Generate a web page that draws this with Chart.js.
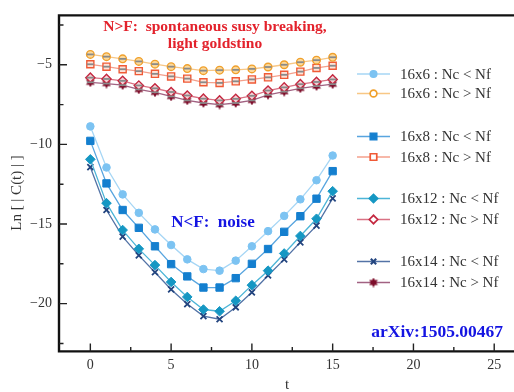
<!DOCTYPE html>
<html>
<head>
<meta charset="utf-8">
<script src="https://cdn.jsdelivr.net/npm/chart.js@4/dist/chart.umd.min.js"></script>
<style>
  html, body { margin: 0; padding: 0; background: #fff; overflow: hidden; }
  #wrap { width: 520px; height: 392px; }
</style>
</head>
<body>
<div id="wrap"><canvas id="c" width="520" height="392"></canvas></div>
<script>
// Euclidean time slices
const tValues = [0, 1, 2, 3, 4, 5, 6, 7, 8, 9, 10, 11, 12, 13, 14, 15];

// Ln|C(t)|, Nc < Nf (noise dominated)
const lt16x6  = [-8.87, -11.45, -13.14, -14.30, -15.34, -16.32, -17.22, -17.83, -17.93, -17.30, -16.40, -15.45, -14.49, -13.45, -12.25, -10.70];
const lt16x8  = [-9.78, -12.45, -14.12, -15.24, -16.40, -17.52, -18.29, -18.99, -18.99, -18.40, -17.50, -16.57, -15.49, -14.51, -13.41, -11.68];
const lt16x12 = [-10.94, -13.69, -15.38, -16.56, -17.58, -18.64, -19.58, -20.37, -20.48, -19.82, -18.84, -17.93, -16.85, -15.75, -14.67, -12.94];
const lt16x14 = [-11.43, -14.12, -15.79, -16.97, -18.03, -19.11, -20.03, -20.78, -20.98, -20.23, -19.29, -18.23, -17.22, -16.15, -15.10, -13.39];

// Ln|C(t)|, Nc > Nf (light goldstino)
const gt16x6  = [-4.35, -4.49, -4.63, -4.79, -4.96, -5.12, -5.24, -5.37, -5.34, -5.32, -5.26, -5.14, -5.00, -4.84, -4.71, -4.53];
const gt16x8  = [-4.97, -5.12, -5.28, -5.40, -5.57, -5.73, -5.87, -6.10, -6.14, -6.04, -5.92, -5.79, -5.63, -5.43, -5.20, -5.06];
const gt16x12 = [-5.81, -5.89, -6.01, -6.30, -6.48, -6.71, -6.93, -7.13, -7.24, -7.14, -6.95, -6.62, -6.42, -6.22, -6.08, -5.92];
const gt16x14 = [-6.10, -6.18, -6.28, -6.55, -6.73, -6.99, -7.24, -7.40, -7.50, -7.40, -7.24, -6.89, -6.69, -6.48, -6.34, -6.22];

const seriesLabels = [
  '16x6 : Nc < Nf', '16x6 : Nc > Nf',
  '16x8 : Nc < Nf', '16x8 : Nc > Nf',
  '16x12 : Nc < Nf', '16x12 : Nc > Nf',
  '16x14 : Nc < Nf', '16x14 : Nc > Nf'
];

const xTicks = [0, 5, 10, 15, 20, 25];
const xMinorTicks = [2.5, 7.5, 12.5, 17.5, 22.5];
const yTicks = [-5, -10, -15, -20];
const yMinorTicks = [-2.5, -7.5, -12.5, -17.5, -22.5];

const points = vals => tValues.map((t, i) => ({ x: t, y: vals[i] }));

// filled six-pointed star marker
function starMarker(color, size) {
  const c = document.createElement('canvas');
  c.width = size; c.height = size;
  const g = c.getContext('2d');
  const r = size / 2, ri = r * 0.55;
  g.fillStyle = color;
  g.beginPath();
  for (let k = 0; k < 12; k++) {
    const ang = -Math.PI / 2 + k * Math.PI / 6;
    const rr = k % 2 ? ri : r;
    g.lineTo(r + rr * Math.cos(ang), r + rr * Math.sin(ang));
  }
  g.closePath();
  g.fill();
  return c;
}

function series(label, vals, line, border, fill, style, radius, capped, bw) {
  return {
    label, data: points(vals),
    showLine: true,
    borderColor: line, borderWidth: 1.3,
    pointBorderColor: border, pointBackgroundColor: fill,
    pointStyle: style, pointRadius: radius, pointBorderWidth: bw,
    pointHoverRadius: radius,
    capped
  };
}

const datasets = [
  series(seriesLabels[0], lt16x6,  '#a6d6f5', '#7cc3f2', '#7cc3f2', 'circle',  3.8, false, 1),
  series(seriesLabels[1], gt16x6,  '#f8c785', '#f0a02c', '#fcd99a', 'circle',  3.8, true, 1.4),
  series(seriesLabels[2], lt16x8,  '#58a5df', '#147fcf', '#147fcf', 'rect',    5.2, false, 1),
  series(seriesLabels[3], gt16x8,  '#f4a08c', '#f05a36', '#fde3d8', 'rect',    5.0, true, 1.4),
  series(seriesLabels[4], lt16x12, '#4cb5d7', '#1597c3', '#1597c3', 'rectRot', 4.8, false, 1),
  series(seriesLabels[5], gt16x12, '#d97284', '#c42840', '#f5d0d6', 'rectRot', 4.6, true, 1.4),
  series(seriesLabels[6], lt16x14, '#5373a6', '#23457f', '#23457f', 'crossRot', 4.2, false, 1.8),
  series(seriesLabels[7], gt16x14, '#a26282', '#7d0d2a', '#7d0d2a', starMarker('#7d0d2a', 10), 5, true, 1)
];

const SERIF = "'Liberation Serif', 'Times New Roman', serif";

// inward ticks, frame, legend, axis titles and notes
const decor = {
  id: 'decor',
  afterDatasetsDraw(chart) {
    const ctx = chart.ctx;
    // small gray error-bar caps on the Nc > Nf points
    chart.data.datasets.forEach((ds, i) => {
      if (!ds.capped) return;
      chart.getDatasetMeta(i).data.forEach(pt => {
        ctx.save();
        ctx.strokeStyle = '#8a8a8a';
        ctx.lineWidth = 1.8;
        ctx.beginPath();
        ctx.moveTo(pt.x - 3.5, pt.y);
        ctx.lineTo(pt.x + 3.5, pt.y);
        ctx.stroke();
        ctx.restore();
      });
    });
  },
  afterDraw(chart) {
    const ctx = chart.ctx;
    const a = chart.chartArea;
    const xs = chart.scales.x, ys = chart.scales.y;
    ctx.save();

    // frame (left, top, bottom)
    ctx.strokeStyle = '#111';
    ctx.lineWidth = 2.4;
    ctx.beginPath();
    ctx.moveTo(a.right + 5, a.top);
    ctx.lineTo(a.left, a.top);
    ctx.lineTo(a.left, a.bottom);
    ctx.lineTo(a.right + 5, a.bottom);
    ctx.stroke();

    // ticks pointing into the plot
    ctx.lineWidth = 1.4;
    ctx.strokeStyle = '#222';
    ctx.beginPath();
    xTicks.forEach(v => { const x = xs.getPixelForValue(v); ctx.moveTo(x, a.bottom); ctx.lineTo(x, a.bottom - 8); });
    xMinorTicks.forEach(v => { const x = xs.getPixelForValue(v); ctx.moveTo(x, a.bottom); ctx.lineTo(x, a.bottom - 4.5); });
    yTicks.forEach(v => { const y = ys.getPixelForValue(v); ctx.moveTo(a.left, y); ctx.lineTo(a.left + 8, y); });
    yMinorTicks.forEach(v => { const y = ys.getPixelForValue(v); ctx.moveTo(a.left, y); ctx.lineTo(a.left + 4.5, y); });
    ctx.stroke();

    // legend
    const rows = [74, 93.5, 136.5, 157, 198.5, 219.5, 261.5, 282.5];
    chart.data.datasets.forEach((ds, i) => {
      const y = rows[i];
      ctx.strokeStyle = ds.borderColor;
      ctx.lineWidth = 1.5;
      ctx.beginPath();
      ctx.moveTo(357, y);
      ctx.lineTo(390, y);
      ctx.stroke();
      ctx.strokeStyle = ds.pointBorderColor;
      ctx.fillStyle = ds.capped ? '#ffffff' : ds.pointBackgroundColor;
      ctx.lineWidth = ds.pointBorderWidth + 0.3;
      Chart.helpers.drawPoint(ctx, { pointStyle: ds.pointStyle, radius: ds.pointRadius - 0.4, rotation: 0, borderWidth: ds.pointBorderWidth }, 373.5, y);
      ctx.fillStyle = '#333';
      ctx.font = '15px ' + SERIF;
      ctx.textAlign = 'left';
      ctx.textBaseline = 'middle';
      ctx.fillText(ds.label, 400, y + 1);
    });

    // axis titles
    ctx.fillStyle = '#333';
    ctx.font = '15px ' + SERIF;
    ctx.textAlign = 'center';
    ctx.textBaseline = 'middle';
    ctx.fillText('t', 287, 385);
    ctx.save();
    ctx.translate(17, 193);
    ctx.rotate(-Math.PI / 2);
    ctx.fillText('Ln [ | C(t) | ]', 0, 0);
    ctx.restore();

    // notes
    ctx.font = 'bold 15.5px ' + SERIF;
    ctx.fillStyle = '#e3222c';
    ctx.fillText('N>F:  spontaneous susy breaking,', 215, 27);
    ctx.fillText('light goldstino', 215, 44);
    ctx.fillStyle = '#1414e2';
    ctx.font = 'bold 17px ' + SERIF;
    ctx.fillText('N<F:  noise', 213, 223);
    ctx.font = 'bold 17.5px ' + SERIF;
    ctx.textAlign = 'right';
    ctx.fillText('arXiv:1505.00467', 503, 332);
    ctx.restore();
  }
};

new Chart(document.getElementById('c'), {
  type: 'scatter',
  data: { datasets },
  options: {
    responsive: false,
    animation: false,
    devicePixelRatio: 1,
    layout: { padding: { top: 6, right: 0, left: 0, bottom: 0 } },
    plugins: { legend: { display: false }, tooltip: { enabled: false } },
    scales: {
      x: {
        type: 'linear', min: -1.94, max: 26.2,
        grid: { display: false, drawTicks: false },
        border: { display: false },
        afterFit: s => { s.height = 40.6; },
        afterBuildTicks: s => { s.ticks = xTicks.map(v => ({ value: v })); },
        ticks: { padding: 6, color: '#333', font: { family: SERIF, size: 14 } }
      },
      y: {
        type: 'linear', min: -23, max: -1.9,
        grid: { display: false, drawTicks: false },
        border: { display: false },
        afterFit: s => { s.width = 59; },
        afterBuildTicks: s => { s.ticks = yTicks.map(v => ({ value: v })); },
        ticks: { padding: 7, color: '#333', font: { family: SERIF, size: 14 },
                 callback: v => v < 0 ? '\u2212' + Math.abs(v) : String(v) }
      }
    }
  },
  plugins: [decor]
});
</script>
</body>
</html>
